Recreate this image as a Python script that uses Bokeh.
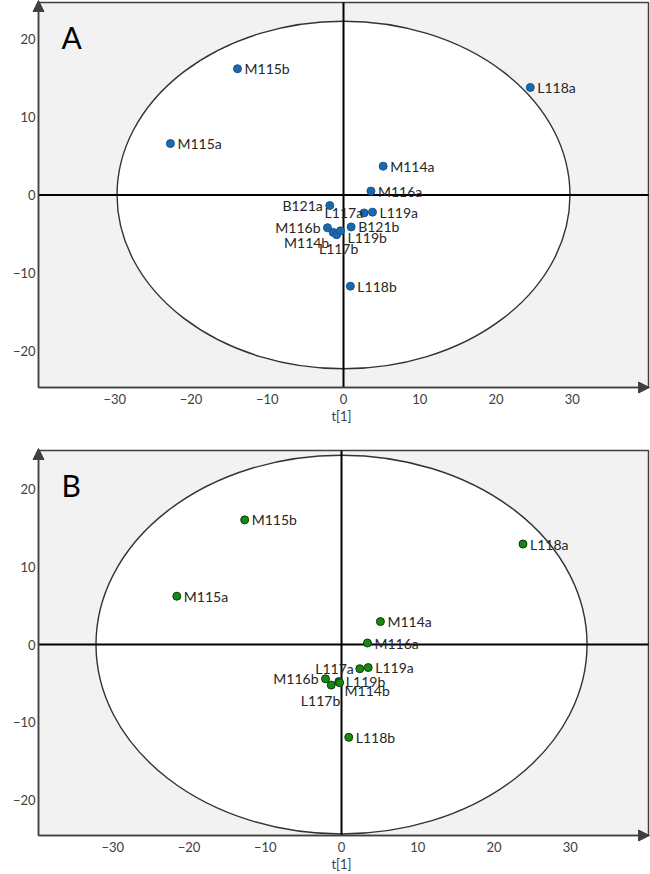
import math
from bokeh.plotting import figure
from bokeh.models import ColumnDataSource, Arrow, NormalHead, Label, FixedTicker, Range1d
from bokeh.layouts import column
from bokeh.embed import file_html
from bokeh.resources import INLINE
from bokeh.core.properties import value

# ---------------- data ----------------
x_ticks = [-30, -20, -10, 0, 10, 20, 30]
y_ticks = [-20, -10, 0, 10, 20]

names_a = ["M115b", "L118a", "M115a", "M114a", "M116a", "B121a", "L117a",
           "L119a", "M116b", "B121b", "M114b", "L117b", "L119b", "L118b"]
t1_a = [-13.9, 24.5, -22.7, 5.2, 3.6, -1.8, 2.7, 3.8, -2.1, 1.0, -1.35, -0.9, -0.4, 0.9]
t2_a = [16.2, 13.8, 6.6, 3.7, 0.5, -1.35, -2.3, -2.2, -4.2, -4.1, -4.8, -5.1, -4.6, -11.7]
ellipse_a = (29.7, 22.3)   # semi-axes (t1, t2)

names_b = ["M115b", "L118a", "M115a", "M114a", "M116a", "L117a", "L119a",
           "M116b", "L117b", "L119b", "M114b", "L118b"]
t1_b = [-12.7, 23.8, -21.6, 5.1, 3.4, 2.4, 3.5, -2.1, -1.35, -0.35, -0.25, 0.95]
t2_b = [16.0, 12.9, 6.2, 2.95, 0.2, -3.1, -2.95, -4.4, -5.2, -4.75, -4.9, -11.9]
ellipse_b = (32.2, 24.3)

# label placement (screen px offsets, alignment)
label_style_a = {
    "B121a": (-7, 0, "right"),
    "L117a": (-1, 0, "right"),
    "M116b": (-7, 0, "right"),
    "M114b": (-4, 10, "right"),
    "L117b": (2, 14, "center"),
    "L119b": (7, 7, "left"),
}
label_style_b = {
    "L117a": (-6, 0, "right"),
    "M116b": (-7, 0, "right"),
    "L117b": (9, 15, "right"),
    "L119b": (7, 0, "left"),
    "M114b": (5, 8, "left"),
}
DEFAULT_STYLE = (7, 0, "left")

FONT = "Lato"
AXIS_COL = "#404040"
FRAME_W, FRAME_H = 610, 385          # visible plot box, px
PAD_L, PAD_R, PAD_T, PAD_B = 6, 2, 2, 6   # room for the axis arrow heads, px


def panel(letter, names, t1, t2, xv, yv, ell, fill, edge, styles, top):
    x0, x1 = xv
    y0, y1 = yv
    sx = FRAME_W / (x1 - x0)
    sy = FRAME_H / (y1 - y0)
    xr = Range1d(x0 - PAD_L / sx, x1 + PAD_R / sx)
    yr = Range1d(y0 - PAD_B / sy, y1 + PAD_T / sy)
    real_h = FRAME_H + PAD_T + PAD_B
    bottom = 33
    p = figure(width=650, height=top + real_h + bottom, x_range=xr, y_range=yr,
               output_backend="svg", toolbar_location=None,
               min_border_left=38 - PAD_L, min_border_right=0,
               min_border_top=top, min_border_bottom=bottom)
    p.background_fill_color = "white"
    p.border_fill_color = "white"
    p.outline_line_color = None
    p.grid.visible = False

    for ax in (p.xaxis, p.yaxis):
        ax.axis_line_color = None
        ax.major_tick_in = 0
        ax.major_tick_out = 0
        ax.minor_tick_in = 0
        ax.minor_tick_out = 0
        ax.major_label_text_font = FONT
        ax.major_label_text_font_size = "13px"
        ax.major_label_text_color = AXIS_COL
    p.xaxis.ticker = FixedTicker(ticks=x_ticks)
    p.yaxis.ticker = FixedTicker(ticks=y_ticks)
    p.xaxis.major_label_standoff = 6 - PAD_B
    p.yaxis.major_label_standoff = 3 - PAD_L
    p.xaxis.axis_label = "t[1]"
    p.xaxis.axis_label_text_font = FONT
    p.xaxis.axis_label_text_font_size = "13px"
    p.xaxis.axis_label_text_font_style = "normal"
    p.xaxis.axis_label_text_color = AXIS_COL
    p.xaxis.axis_label_standoff = 1

    # plot box (grey)
    p.quad(left=[x0], right=[x1], bottom=[y0], top=[y1],
           fill_color="#f2f2f2", line_color=None)
    # confidence ellipse
    p.ellipse(x=[0], y=[0], width=[2 * ell[0]], height=[2 * ell[1]],
              fill_color="white", line_color="#333333", line_width=1.4)
    # box outline
    p.quad(left=[x0], right=[x1], bottom=[y0], top=[y1],
           fill_color=None, line_color=AXIS_COL, line_width=1.5)
    # zero lines
    p.segment(x0=[x0, 0], y0=[0, y0], x1=[x1, 0], y1=[0, y1],
              line_color="black", line_width=2)

    # axis arrows
    head = dict(size=11, fill_color=AXIS_COL, line_color=AXIS_COL)
    p.add_layout(Arrow(end=NormalHead(**head), x_start=x0, y_start=y0,
                       x_end=x0, y_end=y1 + PAD_T / sy, line_color=AXIS_COL,
                       line_width=1.5))
    p.add_layout(Arrow(end=NormalHead(**head), x_start=x0, y_start=y0,
                       x_end=x1 + 1 / sx, y_end=y0, line_color=AXIS_COL,
                       line_width=1.5))

    dx, dy, al = [], [], []
    for n in names:
        s = styles.get(n, DEFAULT_STYLE)
        dx.append(s[0]); dy.append(s[1]); al.append(s[2])
    src = ColumnDataSource(dict(t1=t1, t2=t2, name=names, dx=dx, dy=dy, al=al))

    p.scatter("t1", "t2", source=src, size=8, fill_color=fill, line_color=edge,
              line_width=1)
    p.text("t1", "t2", text="name", source=src, x_offset="dx", y_offset="dy",
           text_align="al", text_baseline="middle", text_font=value(FONT),
           text_font_size="14px", text_color="#262626")

    # panel letter
    p.text(x=[x0], y=[y1], text=[letter], x_offset=23, y_offset=16,
           text_baseline="top", text_align="left", text_font=value(FONT),
           text_font_size="30px", text_color="black")

    # y axis label
    p.add_layout(Label(x=x0, y=0, x_offset=-28, text="t[2]", angle=math.pi / 2,
                       text_align="center", text_baseline="middle",
                       text_font=FONT, text_font_size="13px",
                       text_color=AXIS_COL))
    return p


pa = panel("A", names_a, t1_a, t2_a, (-40, 40), (-24.7, 24.7), ellipse_a,
           "#1b68ac", "#15558e", label_style_a, 0)
pb = panel("B", names_b, t1_b, t2_b, (-39.74, 40.26), (-24.5, 24.9), ellipse_b,
           "#138a13", "#0b3d0b", label_style_b, 22)

layout = column(pa, pb, spacing=0)
open("out.html", "w").write(file_html(layout, INLINE))
